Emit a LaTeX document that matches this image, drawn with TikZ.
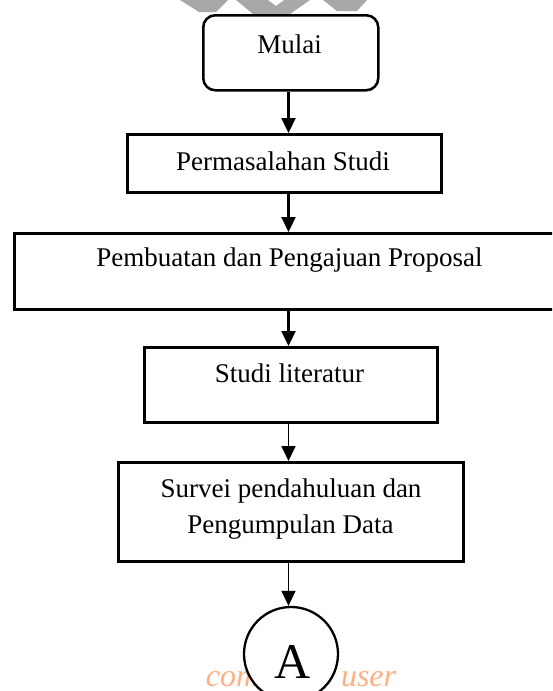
\documentclass[tikz,border=0pt]{standalone}
\usepackage{fontspec}
\setmainfont{Liberation Serif}
\usetikzlibrary{arrows.meta}
\definecolor{wmorange}{RGB}{255,176,128}
\definecolor{wmgray}{RGB}{168,168,168}
\tikzset{
  boxshape/.style={draw=black, line width=2.5pt, fill=none, inner sep=0pt, anchor=north west},
  txt/.style={inner sep=0pt, anchor=base, font=\fontsize{27}{32}\selectfont},
  arr/.style={line width=2.3pt, -{Triangle[width=14pt,length=15pt]}},
  thinarr/.style={line width=1.4pt, -{Triangle[width=14pt,length=15pt]}}
}
\begin{document}
\begin{tikzpicture}[x=1pt,y=-1pt]
\useasboundingbox (0,0) rectangle (552,691);
\clip (0,0) rectangle (552,691);
\fill[white] (0,0) rectangle (552,691);
% watermark shapes at top
\fill[wmgray] (180,0) -- (228,0) -- (216,12) -- (199,12) -- cycle;
\fill[wmgray] (236,0) -- (268,0) -- (276,6) -- (284,0) -- (310,0) -- (290,14) -- (253,14) -- cycle;
\fill[wmgray] (323,0) -- (367,0) -- (357,11) -- (337,11) -- cycle;
% watermark text at bottom
\node[inner sep=0pt, anchor=base, text=wmorange, font=\fontsize{32}{36}\selectfont\itshape] (wm) at (301,686) {commit to user};
% boxes
\node[boxshape, rounded corners=12pt, minimum width=175pt, minimum height=75pt] (mulai) at (202,14) {};
\node[txt] (tmulai) at (289.5,53) {Mulai};
\node[boxshape, minimum width=314pt, minimum height=58pt] (b2) at (126,133) {};
\node[txt] (tb2) at (283,170) {Permasalahan Studi};
\node[boxshape, line width=2.8pt, minimum width=540pt, minimum height=76pt] (b3) at (13,232) {};
\node[txt] (tb3) at (289.5,266) {Pembuatan dan Pengajuan Proposal};
\node[boxshape, minimum width=293pt, minimum height=75pt] (b4) at (143,346) {};
\node[txt] (tb4) at (289.5,382) {Studi literatur};
\node[boxshape, minimum width=345pt, minimum height=99pt] (b5) at (117,461) {};
\node[txt] (tb5a) at (291,497) {Survei pendahuluan dan};
\node[txt] (tb5b) at (290.5,533) {Pengumpulan Data};
% connector circle
\node[draw=black, line width=2.3pt, fill=white, circle, minimum size=94pt, inner sep=0pt] (ca) at (291,654) {};
\node[inner sep=0pt, anchor=base, font=\fontsize{50}{56}\selectfont] (tA) at (293,678) {A};
% arrows
\coordinate (x1) at (288.5,0);
\draw[arr] (mulai.south -| x1) -- (b2.north -| x1);
\draw[arr] (b2.south -| x1) -- (b3.north -| x1);
\draw[arr] (b3.south -| x1) -- (b4.north -| x1);
\draw[line width=1.7pt, -{Triangle[width=14pt,length=15pt]}] (b4.south -| x1) -- (b5.north -| x1);
\draw[thinarr] (b5.south -| x1) -- (ca.north -| x1);
\end{tikzpicture}
\end{document}
